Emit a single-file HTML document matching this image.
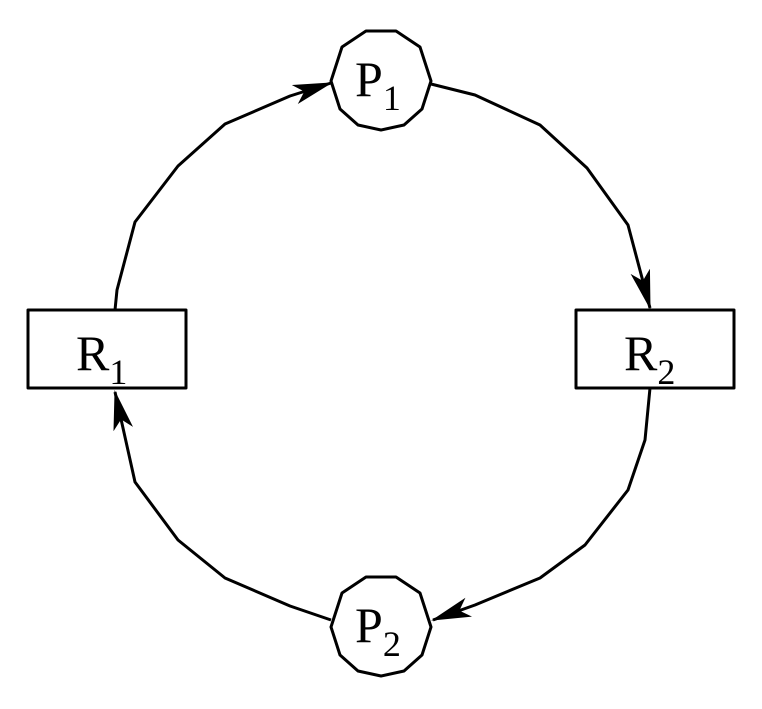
<!DOCTYPE html>
<html><head><meta charset="utf-8"><style>
html,body{margin:0;padding:0;background:#fff}
svg text{font-family:"Liberation Serif",serif;fill:#000}
</style></head><body>
<svg width="762" height="704" viewBox="0 0 762 704" xmlns="http://www.w3.org/2000/svg">
<defs>
<marker id="ah" markerWidth="50" markerHeight="24" refX="38" refY="10" orient="auto" markerUnits="userSpaceOnUse">
<path d="M0,0 L40,10 L0,20 L10,10 Z" fill="#000"/>
</marker>
</defs>
<g fill="none" stroke="#000" stroke-width="3" stroke-linejoin="round">
<polyline points="115,310 117,290 135,222 178,166 225,124 290,96 331,83" marker-end="url(#ah)"/>
<polyline points="431,84 475,95 540,125 587,168 628,225 650,308" marker-end="url(#ah)"/>
<polyline points="650,388 645,440 628,490 585,545 540,578 475,605 433,620" marker-end="url(#ah)"/>
<polyline points="331,620 290,606 225,578 178,540 135,482 115,392" marker-end="url(#ah)"/>
<polygon fill="#fff" points="366,31 396,31 420,47 431,81 422,109 404,125 381,130 358,125 340,109 331,81 342,47"/>
<polygon fill="#fff" points="366,577 396,577 420,593 431,627 422,655 404,671 381,676 358,671 340,655 331,627 342,593"/>
<rect x="28" y="310" width="158" height="78" fill="#fff"/>
<rect x="576" y="310" width="158" height="78" fill="#fff"/>
</g>
<text x="355" y="96" font-size="50">P<tspan font-size="36" dy="14">1</tspan></text>
<text x="355" y="642" font-size="50">P<tspan font-size="36" dy="14">2</tspan></text>
<text x="76" y="370" font-size="50">R<tspan font-size="36" dy="14">1</tspan></text>
<text x="624" y="370" font-size="50">R<tspan font-size="36" dy="14">2</tspan></text>
</svg>
</body></html>
